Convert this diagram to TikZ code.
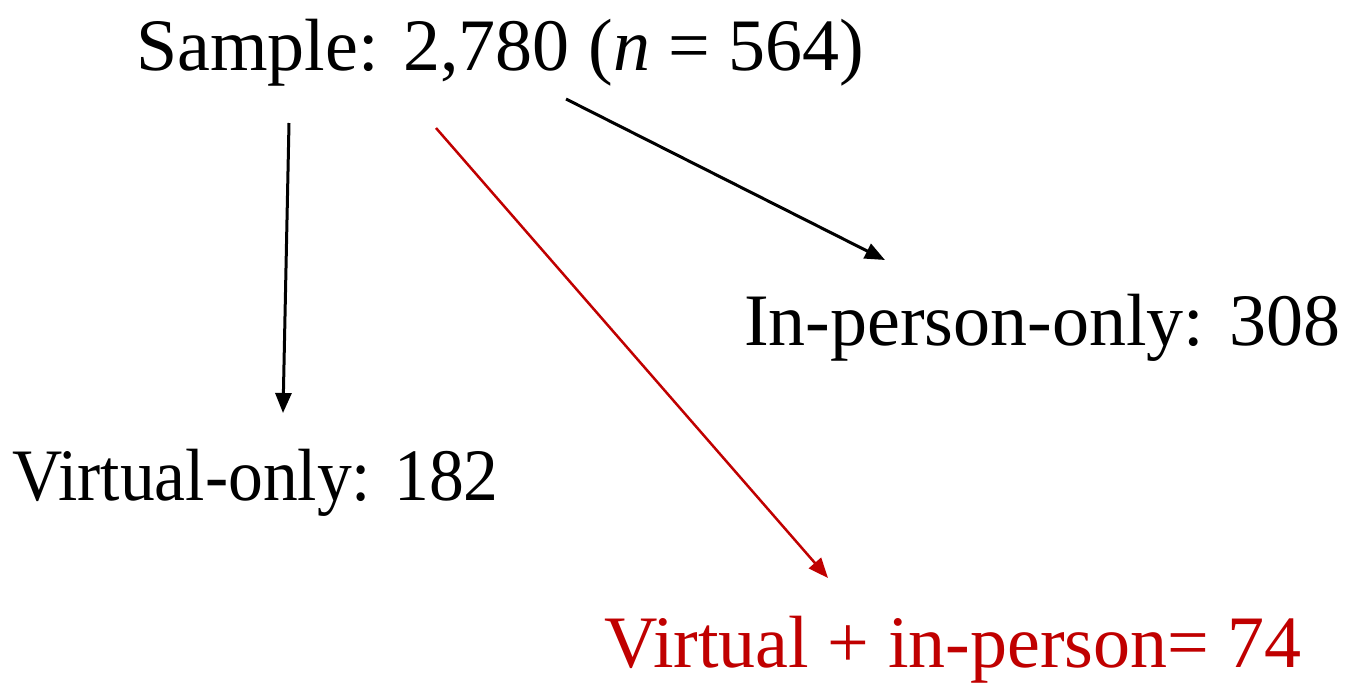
\documentclass[tikz,border=0pt]{standalone}
\usepackage{fontspec}
\setmainfont{Liberation Serif}
\usetikzlibrary{arrows.meta}
\definecolor{darkred}{HTML}{C00000}
\begin{document}
\begin{tikzpicture}[x=1pt,y=-1pt,
  lbl/.style={anchor=base west,inner sep=0pt,font=\fontsize{74}{88}\selectfont},
  arr/.style={-{Triangle[length=20pt,width=16pt]},line width=3pt}]
\useasboundingbox (0,0) rectangle (1347,683);
\node[lbl] (sample) at (136,70) {Sample: 2,780 (\textit{n} = 564)};
\node[lbl] (inperson) at (744,345) {In-person-only: 308};
\node[lbl] (virtual) at (12,500) {\scalebox{0.94}[1]{Virtual-only: 182}};
\node[lbl,text=darkred] (both) at (604,667) {Virtual + in-person= 74};
\coordinate (s1) at (289,123);
\coordinate (v1) at (283,413);
\coordinate (s2) at (436,128);
\coordinate (b1) at (828,578);
\coordinate (s3) at (566,99);
\coordinate (i1) at (885,260);
\draw[arr] (s1) -- (v1);
\draw[arr,darkred,line width=2.5pt] (s2) -- (b1);
\draw[arr] (s3) -- (i1);
\end{tikzpicture}
\end{document}
